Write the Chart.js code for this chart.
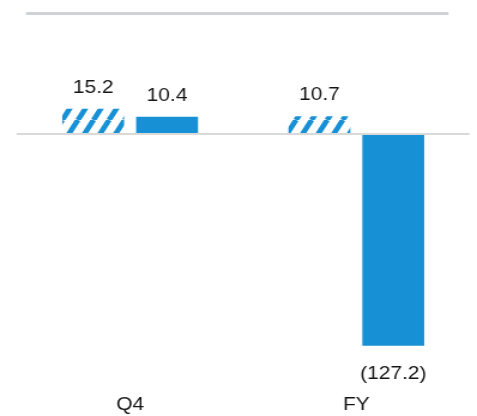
<!DOCTYPE html>
<html>
<head>
<meta charset="utf-8">
<script src="https://cdn.jsdelivr.net/npm/chart.js@4.4.1/dist/chart.umd.min.js"></script>
<style>
  html, body { margin: 0; padding: 0; background: #fff; }
  #wrap { width: 477px; height: 416px; overflow: hidden; }
</style>
</head>
<body>
<div id="wrap">
  <canvas id="chart" width="398" height="443" style="width:477px;height:443px;display:block"></canvas>
</div>
<script>
const categories = ['Q4', 'FY'];
const priorValues = [15.2, 10.7];
const currentValues = [10.4, -127.2];

const blue = '#1890d5';
const textColor = '#151515';
const labelFont = '17.5px "Liberation Sans", Arial, sans-serif';

// diagonal hatch used for the prior period bars
function makeHatch() {
  const w = 13, h = 24;
  const c = document.createElement('canvas');
  c.width = w;
  c.height = h;
  const g = c.getContext('2d');
  g.fillStyle = '#ffffff';
  g.fillRect(0, 0, w, h);
  g.strokeStyle = blue;
  g.lineWidth = 4.6;
  [-w, 0, w].forEach(off => {
    g.beginPath();
    g.moveTo(off, h);
    g.lineTo(off + w, 0);
    g.stroke();
  });
  return g.createPattern(c, 'repeat');
}

const topRule = {
  id: 'topRule',
  beforeDraw(chart) {
    const { ctx, chartArea } = chart;
    ctx.save();
    ctx.fillStyle = '#cfd3d8';
    ctx.fillRect(chartArea.left + 7.5, chartArea.top - 1.5, chartArea.right - chartArea.left - 25, 3);
    ctx.restore();
  }
};

const barLabels = {
  id: 'barLabels',
  afterDatasetsDraw(chart) {
    const ctx = chart.ctx;
    ctx.save();
    ctx.font = labelFont;
    ctx.fillStyle = textColor;
    ctx.textAlign = 'center';
    ctx.textBaseline = 'alphabetic';
    chart.data.datasets.forEach((ds, i) => {
      chart.getDatasetMeta(i).data.forEach((bar, j) => {
        const v = ds.data[j];
        const txt = v < 0 ? '(' + Math.abs(v).toFixed(1) + ')' : v.toFixed(1);
        const y = v < 0 ? bar.y + 32.8 : bar.y - 15.7;
        ctx.fillText(txt, bar.x, y);
      });
    });
    ctx.restore();
  }
};

const ctx = document.getElementById('chart').getContext('2d');
new Chart(ctx, {
  type: 'bar',
  data: {
    labels: categories,
    datasets: [
      {
        label: 'Prior',
        data: priorValues,
        backgroundColor: makeHatch(),
        borderWidth: 0,
        categoryPercentage: 0.653,
        barPercentage: 0.838
      },
      {
        label: 'Current',
        data: currentValues,
        backgroundColor: blue,
        borderWidth: 0,
        categoryPercentage: 0.653,
        barPercentage: 0.838
      }
    ]
  },
  options: {
    responsive: false,
    devicePixelRatio: 1,
    animation: false,
    layout: { padding: { top: 13.5, left: 14.2, right: 6.3, bottom: 0 } },
    plugins: {
      legend: { display: false },
      tooltip: { enabled: false }
    },
    scales: {
      x: {
        grid: { display: false, drawTicks: false },
        border: { display: false },
        ticks: {
          color: textColor,
          font: { family: '"Liberation Sans", Arial, sans-serif', size: 17.5 },
          padding: 27.4
        }
      },
      y: {
        min: -140,
        max: 72.3,
        border: { display: false },
        ticks: { display: false, stepSize: 20 },
        grid: {
          drawTicks: false,
          lineWidth: 2,
          color: c => (c.tick && c.tick.value === 0 ? '#d9d9d9' : 'rgba(0,0,0,0)')
        }
      }
    }
  },
  plugins: [topRule, barLabels]
});
</script>
</body>
</html>
